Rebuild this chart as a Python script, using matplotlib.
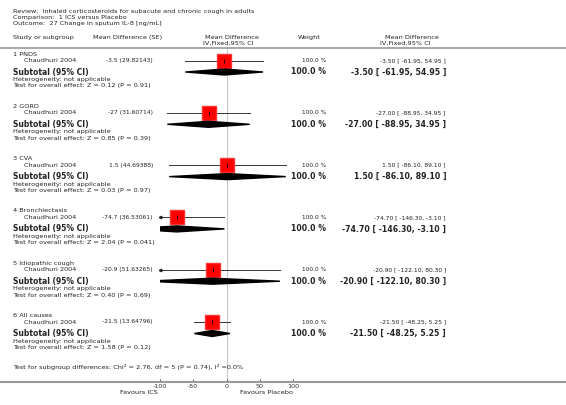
import matplotlib
matplotlib.use("Agg")
from matplotlib import pyplot as plt
from matplotlib.lines import Line2D
from matplotlib.patches import Polygon

# data
groups = ["1 PNDS", "2 GORD", "3 CVA", "4 Bronchiectasis", "5 Idiopathic cough", "6 All causes"]
study = "Chaudhuri 2004"
md = [-3.5, -27, 1.5, -74.7, -20.9, -21.5]
se_txt = ["-3.5 (29.82143)", "-27 (31.60714)", "1.5 (44.69388)", "-74.7 (36.53061)",
          "-20.9 (51.63265)", "-21.5 (13.64796)"]
lo = [-61.95, -88.95, -86.10, -146.30, -122.10, -48.25]
hi = [54.95, 34.95, 89.10, -3.10, 80.30, 5.25]
z_txt = ["0.12", "0.85", "0.03", "2.04", "0.40", "1.58"]
p_txt = ["0.91", "0.39", "0.97", "0.041", "0.69", "0.12"]
weight = "100.0 %"
ticks = [-100, -50, 0, 50, 100]

W, H = 566, 405
fig = plt.figure(figsize=(W / 100, H / 100), dpi=100)
fig.patch.set_facecolor("white")


def t(x, y, s, **kw):
    kw.setdefault("fontsize", 4.65)
    kw.setdefault("va", "center")
    kw.setdefault("color", "#222222")
    fig.text(x / W, 1 - y / H, s, **kw)


# title block
t(13, 11, "Review:  Inhaled corticosteroids for subacute and chronic cough in adults")
t(13, 17.5, "Comparison:  1 ICS versus Placebo")
t(13, 24, "Outcome:  27 Change in sputum IL-8 [ng/mL]")

# headers
t(13, 38, "Study or subgroup")
t(93, 38, "Mean Difference (SE)")
t(232, 37.5, "Mean Difference", ha="center")
t(228, 43.5, "IV,Fixed,95% CI", ha="center")
t(298, 38, "Weight")
t(412, 37.5, "Mean Difference", ha="center")
t(405, 43.5, "IV,Fixed,95% CI", ha="center")

# lines across page
fig.add_artist(Line2D([0, 1], [1 - 48 / H] * 2, color="#999999", lw=1.2))
fig.add_artist(Line2D([0, 1], [1 - 382 / H] * 2, color="#999999", lw=1.5))

# forest axes, y in pixel units
ax = fig.add_axes([160 / W, 1 - 382 / H, 133 / W, 334 / H])
ax.set_xlim(-100, 100)
ax.set_ylim(382, 48)
ax.patch.set_alpha(0)
for s in ax.spines.values():
    s.set_visible(False)
ax.set_yticks([])
ax.set_xticks(ticks)
ax.set_xticklabels([str(v) for v in ticks])
ax.tick_params(axis="x", direction="in", length=2, width=0.6, pad=1.5,
               labelsize=4.6, colors="#333333")
ax.axvline(0, color="#c8c8c8", lw=0.8, zorder=0)

step = 52.3
for i, g in enumerate(groups):
    y0 = 54 + step * i
    ys = y0 + 6.5
    yt = y0 + 18
    t(13, y0, g)
    t(24, ys, study)
    t(153, ys, se_txt[i], ha="right", fontsize=4.3)
    t(326, ys, weight, ha="right", fontsize=4.2)
    ci = "%.2f [ %.2f, %.2f ]" % (md[i], lo[i], hi[i])
    t(446, ys, ci, ha="right", fontsize=4.3)
    t(13, yt, "Subtotal (95% CI)", fontweight="bold", fontsize=5.5)
    t(326, yt, weight, ha="right", fontweight="bold", fontsize=5.6)
    t(446, yt, ci, ha="right", fontweight="bold", fontsize=5.6)
    t(13, y0 + 25.5, "Heterogeneity: not applicable")
    t(13, y0 + 32, "Test for overall effect: Z = %s (P = %s)" % (z_txt[i], p_txt[i]))

    # study CI line + square
    a = max(lo[i], -100)
    b = min(hi[i], 100)
    ax.plot([a, b], [ys, ys], color="#333333", lw=0.7, zorder=2)
    if lo[i] < -100:
        ax.plot(-100, ys, marker="<", ms=1.8, color="#222222", clip_on=False)
    ax.plot(md[i], ys, marker="s", ms=9.5, color="#ff0000", mec="#ff3333", zorder=3)
    ax.plot(md[i], ys, marker="|", ms=3, color="black", mew=0.6, zorder=4)

    # subtotal diamond
    d = Polygon([(lo[i], yt), (md[i], yt - 3), (hi[i], yt), (md[i], yt + 3)],
                closed=True, color="black", zorder=3)
    ax.add_patch(d)

t(13, 366.5, "Test for subgroup differences: Chi\u00b2 = 2.76, df = 5 (P = 0.74), I\u00b2 =0.0%")
t(158, 393, "Favours ICS", ha="right")
t(240, 393, "Favours Placebo")

fig.savefig("out.png", dpi=100, facecolor="white")
